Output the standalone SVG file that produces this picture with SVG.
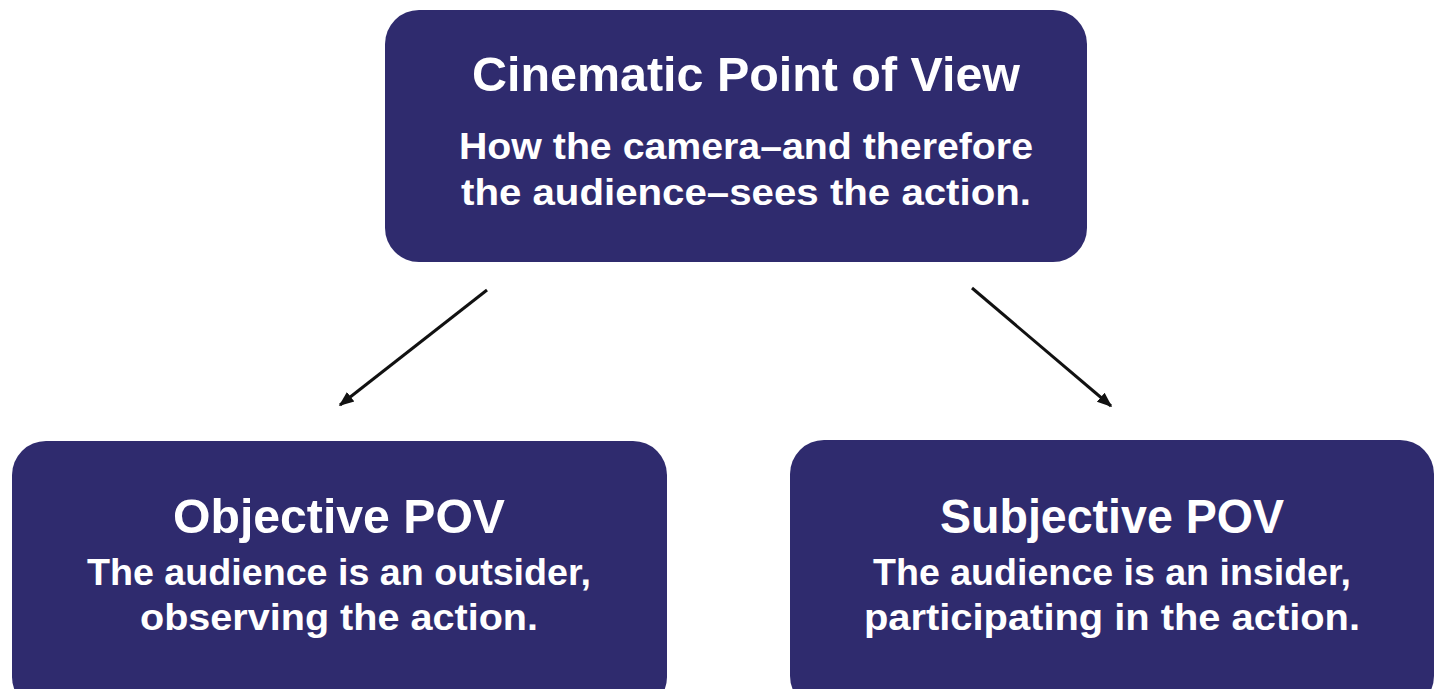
<svg xmlns="http://www.w3.org/2000/svg" width="1435" height="689" viewBox="0 0 1435 689">
<style>
.box{fill:#2f2b6e;}
.t{font-family:"Liberation Sans",Arial,sans-serif;font-weight:bold;fill:#ffffff;text-anchor:middle;}
.h{font-size:49px;}
.s{font-size:37px;}
.c{stroke:#111111;stroke-width:3;fill:none;}
</style>
<defs>
<marker id="ah" viewBox="0 0 10 10" refX="9" refY="5" markerWidth="5" markerHeight="5" orient="auto" markerUnits="strokeWidth">
<path d="M0,1 L10,5 L0,9 Z" fill="#111111"/>
</marker>
</defs>
<rect width="1435" height="689" fill="#ffffff"/>
<g id="connectors">
<line class="c" x1="487" y1="290" x2="340" y2="405" marker-end="url(#ah)"/>
<line class="c" x1="972" y1="288" x2="1111" y2="406" marker-end="url(#ah)"/>
</g>
<g id="node-cinematic">
<rect class="box" x="385" y="10" width="702" height="252" rx="34"/>
<text class="t h" x="746" y="91" textLength="548" lengthAdjust="spacingAndGlyphs">Cinematic Point of View</text>
<text class="t s" x="746" y="159" textLength="574" lengthAdjust="spacingAndGlyphs">How the camera–and therefore</text>
<text class="t s" x="746" y="205" textLength="570" lengthAdjust="spacingAndGlyphs">the audience–sees the action.</text>
</g>
<g id="node-objective">
<rect class="box" x="12" y="441" width="655" height="270" rx="34"/>
<text class="t h" x="339" y="533" textLength="332" lengthAdjust="spacingAndGlyphs">Objective POV</text>
<text class="t s" x="339" y="585" textLength="504" lengthAdjust="spacingAndGlyphs">The audience is an outsider,</text>
<text class="t s" x="339" y="630" textLength="398" lengthAdjust="spacingAndGlyphs">observing the action.</text>
</g>
<g id="node-subjective">
<rect class="box" x="790" y="440" width="644" height="270" rx="34"/>
<text class="t h" x="1112" y="533" textLength="344" lengthAdjust="spacingAndGlyphs">Subjective POV</text>
<text class="t s" x="1112" y="585" textLength="478" lengthAdjust="spacingAndGlyphs">The audience is an insider,</text>
<text class="t s" x="1112" y="630" textLength="496" lengthAdjust="spacingAndGlyphs">participating in the action.</text>
</g>
</svg>
